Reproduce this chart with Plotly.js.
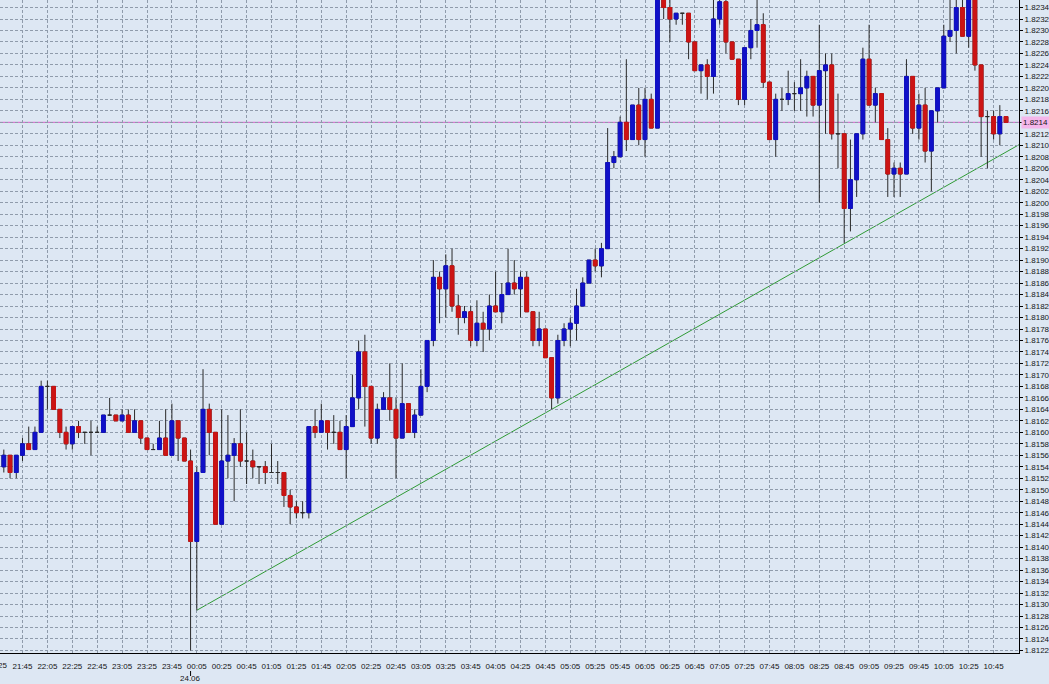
<!DOCTYPE html>
<html><head><meta charset="utf-8">
<script src="https://cdn.plot.ly/plotly-3.0.1.min.js"></script>
<style>html,body{margin:0;padding:0;background:#dde7f3;}#chart{width:1049px;height:684px;}</style>
</head><body><div id="chart"></div>
<script>
// ---- data: 5-minute bars starting at 21:25 (23.06) ----
const startHour = 21, startMinute = 25, barMinutes = 5;
const openP = [
1.8156,1.8154,1.8156,1.8153,1.8156,1.8158,1.8157,1.8160,1.8168,1.8168,
1.8164,1.8160,1.8158,1.8161,1.8160,1.8160,1.8160,1.8160,1.8163,1.8163,
1.8162,1.8163,1.8160,1.8162,1.8159,1.8157,1.8157,1.8159,1.8156,1.8162,
1.8159,1.8155,1.8141,1.8153,1.8164,1.8160,1.8144,1.8155,1.8156,1.8158,
1.8155,1.8155,1.8154,1.8154,1.8153,1.8153,1.8153,1.8149,1.8147,1.8146,
1.8146,1.8161,1.8160,1.8162,1.8160,1.8160,1.8157,1.8161,1.8166,1.8174,
1.8168,1.8159,1.8164,1.8166,1.8164,1.8159,1.8165,1.8160,1.8163,1.8168,
1.8176,1.8187,1.8185,1.8189,1.8182,1.8180,1.8181,1.8176,1.8179,1.8178,
1.8182,1.8181,1.8184,1.8186,1.8185,1.8187,1.8181,1.8176,1.8178,1.8173,
1.8166,1.8176,1.8178,1.8179,1.8182,1.8186,1.8190,1.8189,1.8192,1.8207,
1.8208,1.8214,1.8211,1.8217,1.8211,1.8218,1.8213,1.8238,1.8234,1.8232,
1.8233,1.8233,1.8228,1.8223,1.8224,1.8222,1.8232,1.8235,1.8228,1.8225,
1.8218,1.8227,1.8230,1.8231,1.8221,1.8211,1.8218,1.8218,1.8219,1.8219,
1.8220,1.8222,1.8217,1.8223,1.8224,1.8212,1.8212,1.8199,1.8204,1.8212,
1.8225,1.8217,1.8219,1.8211,1.8205,1.8206,1.8205,1.8222,1.8213,1.8217,
1.8209,1.8216,1.8220,1.8229,1.8230,1.8234,1.8229,1.8238,1.8224,1.8215,
1.8215,1.8212,1.8215];
const highP = [
1.8157,1.8157,1.8156,1.8156,1.8159,1.8161,1.8161,1.8169,1.8169,1.8168,
1.8164,1.8161,1.8161,1.8162,1.8160,1.8162,1.8161,1.8163,1.8166,1.8163,
1.8164,1.8164,1.8164,1.8162,1.8159,1.8158,1.8162,1.8164,1.8165,1.8162,
1.8159,1.8157,1.8154,1.8171,1.8165,1.8160,1.8164,1.8163,1.8159,1.8164,
1.8160,1.8157,1.8154,1.8155,1.8158,1.8155,1.8153,1.8150,1.8148,1.8148,
1.8161,1.8164,1.8165,1.8162,1.8163,1.8162,1.8163,1.8170,1.8176,1.8177,
1.8168,1.8165,1.8167,1.8172,1.8166,1.8172,1.8165,1.8164,1.8171,1.8176,
1.8190,1.8188,1.8191,1.8192,1.8184,1.8182,1.8182,1.8183,1.8181,1.8184,
1.8188,1.8186,1.8192,1.8190,1.8188,1.8188,1.8181,1.8181,1.8178,1.8173,
1.8177,1.8179,1.8180,1.8185,1.8187,1.8190,1.8192,1.8193,1.8213,1.8209,
1.8215,1.8225,1.8217,1.8220,1.8220,1.8219,1.8240,1.8240,1.8237,1.8233,
1.8233,1.8233,1.8228,1.8224,1.8225,1.8237,1.8238,1.8237,1.8228,1.8225,
1.8227,1.8232,1.8237,1.8233,1.8221,1.8219,1.8220,1.8223,1.8221,1.8225,
1.8223,1.8222,1.8231,1.8226,1.8226,1.8219,1.8212,1.8211,1.8212,1.8227,
1.8231,1.8220,1.8219,1.8213,1.8207,1.8207,1.8225,1.8222,1.8219,1.8220,
1.8216,1.8220,1.8231,1.8237,1.8238,1.8237,1.8240,1.8240,1.8224,1.8216,
1.8216,1.8217,1.8215];
const lowP = [
1.8152,1.8153,1.8152,1.8152,1.8155,1.8157,1.8157,1.8160,1.8164,1.8164,
1.8159,1.8157,1.8157,1.8159,1.8158,1.8156,1.8160,1.8160,1.8163,1.8162,
1.8162,1.8160,1.8160,1.8158,1.8157,1.8157,1.8157,1.8156,1.8156,1.8155,
1.8155,1.8122,1.8129,1.8153,1.8156,1.8144,1.8144,1.8152,1.8148,1.8154,
1.8151,1.8152,1.8151,1.8151,1.8153,1.8151,1.8147,1.8144,1.8145,1.8145,
1.8145,1.8159,1.8160,1.8157,1.8158,1.8157,1.8152,1.8161,1.8164,1.8161,
1.8158,1.8158,1.8164,1.8162,1.8152,1.8159,1.8160,1.8159,1.8163,1.8167,
1.8175,1.8179,1.8180,1.8181,1.8177,1.8179,1.8175,1.8175,1.8174,1.8176,
1.8181,1.8179,1.8184,1.8184,1.8180,1.8181,1.8175,1.8175,1.8173,1.8164,
1.8165,1.8175,1.8175,1.8176,1.8182,1.8186,1.8188,1.8187,1.8192,1.8206,
1.8208,1.8209,1.8211,1.8210,1.8208,1.8213,1.8213,1.8232,1.8228,1.8231,
1.8231,1.8225,1.8223,1.8219,1.8218,1.8219,1.8231,1.8226,1.8225,1.8217,
1.8217,1.8225,1.8227,1.8220,1.8211,1.8208,1.8216,1.8217,1.8216,1.8216,
1.8215,1.8215,1.8200,1.8212,1.8211,1.8206,1.8193,1.8195,1.8201,1.8211,
1.8217,1.8214,1.8211,1.8201,1.8201,1.8201,1.8205,1.8212,1.8211,1.8207,
1.8202,1.8214,1.8220,1.8228,1.8226,1.8229,1.8227,1.8223,1.8208,1.8206,
1.8211,1.8210,1.8214];
const closeP = [
1.8153,1.8156,1.8153,1.8156,1.8158,1.8157,1.8160,1.8168,1.8168,1.8164,
1.8160,1.8158,1.8161,1.8160,1.8160,1.8160,1.8160,1.8163,1.8163,1.8162,
1.8163,1.8160,1.8162,1.8159,1.8157,1.8157,1.8159,1.8156,1.8162,1.8159,
1.8155,1.8141,1.8153,1.8164,1.8160,1.8144,1.8155,1.8156,1.8158,1.8155,
1.8155,1.8154,1.8154,1.8153,1.8153,1.8153,1.8149,1.8147,1.8146,1.8146,
1.8161,1.8160,1.8162,1.8160,1.8160,1.8157,1.8161,1.8166,1.8174,1.8168,
1.8159,1.8164,1.8166,1.8164,1.8159,1.8165,1.8160,1.8163,1.8168,1.8176,
1.8187,1.8185,1.8189,1.8182,1.8180,1.8181,1.8176,1.8179,1.8178,1.8182,
1.8181,1.8184,1.8186,1.8185,1.8187,1.8181,1.8176,1.8178,1.8173,1.8166,
1.8176,1.8178,1.8179,1.8182,1.8186,1.8190,1.8189,1.8192,1.8207,1.8208,
1.8214,1.8211,1.8217,1.8211,1.8218,1.8213,1.8238,1.8234,1.8232,1.8233,
1.8233,1.8228,1.8223,1.8224,1.8222,1.8232,1.8235,1.8228,1.8225,1.8218,
1.8227,1.8230,1.8231,1.8221,1.8211,1.8218,1.8218,1.8219,1.8219,1.8220,
1.8222,1.8217,1.8223,1.8224,1.8212,1.8212,1.8199,1.8204,1.8212,1.8225,
1.8217,1.8219,1.8211,1.8205,1.8206,1.8205,1.8222,1.8213,1.8217,1.8209,
1.8216,1.8220,1.8229,1.8230,1.8234,1.8229,1.8238,1.8224,1.8215,1.8215,
1.8212,1.8215,1.8214];
const levelPrice = 1.8214;            // horizontal line
const trendA = {bar: 32, price: 1.8129}; // trend line anchor (00:05 low)
const trendB = {bar: 89, price: 1.8164}; // trend line touch (04:50 low)
const dateText = '24.06';
const dateBar = 31;                    // 00:00 bar
const labelEvery = 4;

// ---- derived ----
const n = openP.length;
const bars = [], times = [];
for (let i = 0; i < n; i++) {
  bars.push(i);
  const m = (startHour * 60 + startMinute + i * barMinutes) % 1440;
  times.push(String(Math.floor(m / 60)).padStart(2, '0') + ':' + String(m % 60).padStart(2, '0'));
}
const tickvals = [], ticktext = [];
for (let i = 0; i < n; i += labelEvery) { tickvals.push(i); ticktext.push(times[i]); }

const xMin = 0.386, xMax = 164.08;
const yMin = 1.812156, yMax = 1.823531;

// body overlay (hides the dark outline of bodies); dojis keep the dark line
const bo = [], bh = [], bl = [], bc = [];
for (let i = 0; i < n; i++) {
  if (openP[i] === closeP[i]) { bo.push(null); bh.push(null); bl.push(null); bc.push(null); }
  else {
    bo.push(openP[i]); bc.push(closeP[i]);
    bh.push(Math.max(openP[i], closeP[i])); bl.push(Math.min(openP[i], closeP[i]));
  }
}
const BLUE = '#1010c8', RED = '#cc1414', WICK = '#2a2a2a';

const slope = (trendB.price - trendA.price) / (trendB.bar - trendA.bar);

const traces = [
  {type: 'candlestick', x: bars, open: openP, high: highP, low: lowP, close: closeP,
   increasing: {line: {color: WICK, width: 1}, fillcolor: BLUE},
   decreasing: {line: {color: WICK, width: 1}, fillcolor: RED},
   whiskerwidth: 0, hoverinfo: 'skip', showlegend: false},
  {type: 'candlestick', x: bars, open: bo, high: bh, low: bl, close: bc,
   increasing: {line: {color: BLUE, width: 1}, fillcolor: BLUE},
   decreasing: {line: {color: RED, width: 1}, fillcolor: RED},
   whiskerwidth: 0, hoverinfo: 'skip', showlegend: false}
];

const FONT = {family: 'Liberation Sans, Arial, sans-serif', size: 8, color: '#151515'};
const GRID = '#8f9bab';
const LABEL_Y = -0.0199; // paper y of the time labels row

// time labels whose bar lies just left of the visible range (partly cut off)
const edgeLabels = [];
for (let k = 0; k < tickvals.length; k++) {
  if (tickvals[k] < xMin && tickvals[k] > xMin - 2) {
    edgeLabels.push({xref: 'paper', x: (tickvals[k] - xMin) / (xMax - xMin), yref: 'paper', y: LABEL_Y,
      yanchor: 'middle', xanchor: 'center', text: ticktext[k], showarrow: false, font: FONT});
  }
}

const layout = {
  width: 1049, height: 684,
  margin: {l: 0, r: 30, t: 0, b: 31, pad: 0},
  paper_bgcolor: '#dde7f3', plot_bgcolor: '#dde7f3',
  showlegend: false, font: FONT,
  boxgap: 0.4, boxgroupgap: 0,
  xaxis: {
    range: [xMin, xMax], tickmode: 'array', tickvals: tickvals, ticktext: ticktext,
    showgrid: true, gridcolor: GRID, griddash: '3px,2px', gridwidth: 1,
    showline: true, linecolor: '#000', linewidth: 1, zeroline: false,
    ticks: 'outside', ticklen: 5, tickcolor: 'rgba(0,0,0,0)',
    rangeslider: {visible: false}, fixedrange: true, tickfont: FONT
  },
  yaxis: {
    range: [yMin, yMax], side: 'right', tickmode: 'linear', tick0: 1.8122, dtick: 0.0002,
    tickformat: '.4f', showgrid: true, gridcolor: GRID, griddash: '3px,2px', gridwidth: 1,
    showline: true, linecolor: '#000', linewidth: 1, zeroline: false,
    ticks: 'outside', ticklen: 3, tickcolor: '#000', fixedrange: true, tickfont: FONT
  },
  shapes: [
    {type: 'line', xref: 'paper', x0: 0, x1: 1, yref: 'y', y0: levelPrice, y1: levelPrice,
     line: {color: '#dc5ccc', width: 1}, layer: 'below'},
    {type: 'line', xref: 'x', x0: trendA.bar, x1: xMax, yref: 'y',
     y0: trendA.price, y1: trendA.price + slope * (xMax - trendA.bar),
     line: {color: '#2f9a35', width: 1}, layer: 'below'},
    {type: 'line', xref: 'x', x0: dateBar, x1: dateBar, yref: 'paper', y0: -0.0276, y1: -0.0352,
     line: {color: '#000', width: 1}}
  ],
  annotations: [
    {xref: 'paper', x: 1, xanchor: 'left', xshift: 2, yref: 'y', y: levelPrice, yanchor: 'middle',
     text: levelPrice.toFixed(4), showarrow: false, bgcolor: '#f4b6ea', borderpad: 1, font: FONT},
    {xref: 'x', x: dateBar, yref: 'paper', y: -0.0398, yanchor: 'middle', xanchor: 'center',
     text: dateText, showarrow: false, font: FONT}
  ].concat(edgeLabels)
};
Plotly.newPlot('chart', traces, layout, {staticPlot: true, displayModeBar: false});
</script>
</body></html>
